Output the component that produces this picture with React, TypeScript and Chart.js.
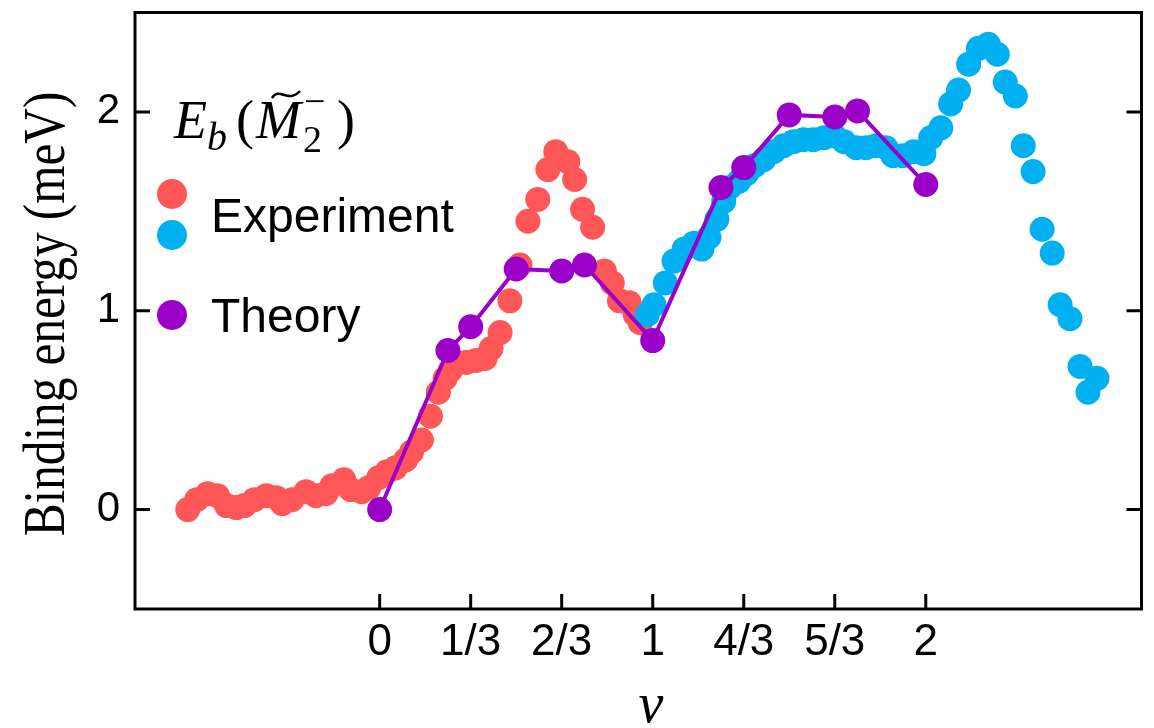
import React, { useEffect, useRef } from "react";
import { Chart, registerables } from "chart.js";

Chart.register(...registerables);

// ---------- data ----------
const expRedNu = [-0.703, -0.67, -0.63, -0.594, -0.561, -0.525, -0.495, -0.459, -0.415, -0.379, -0.357, -0.321, -0.27, -0.233, -0.197, -0.175, -0.131, -0.106, -0.066, -0.04, -0.004, 0.026, 0.058, 0.095, 0.117, 0.153, 0.186, 0.215, 0.24, 0.259, 0.281, 0.317, 0.353, 0.386, 0.408, 0.441, 0.477, 0.514, 0.543, 0.579, 0.616, 0.645, 0.689, 0.714, 0.743, 0.78, 0.823, 0.852, 0.878, 0.914, 0.936, 0.954];
const expRedE = [0.0, 0.05, 0.08, 0.07, 0.02, 0.01, 0.02, 0.05, 0.07, 0.06, 0.03, 0.05, 0.09, 0.07, 0.08, 0.12, 0.15, 0.1, 0.09, 0.11, 0.16, 0.19, 0.21, 0.25, 0.29, 0.35, 0.47, 0.59, 0.66, 0.7, 0.74, 0.74, 0.75, 0.76, 0.81, 0.89, 1.05, 1.23, 1.45, 1.56, 1.71, 1.8, 1.75, 1.66, 1.51, 1.42, 1.2, 1.14, 1.05, 1.04, 0.98, 0.94];

const expBlueNu = [0.98, 1.005, 1.046, 1.078, 1.115, 1.151, 1.18, 1.206, 1.235, 1.26, 1.282, 1.315, 1.344, 1.373, 1.406, 1.443, 1.479, 1.515, 1.552, 1.588, 1.628, 1.665, 1.701, 1.745, 1.781, 1.818, 1.854, 1.88, 1.916, 1.956, 1.993, 2.018, 2.055, 2.091, 2.12, 2.157, 2.193, 2.229, 2.262, 2.291, 2.328, 2.357, 2.393, 2.426, 2.463, 2.492, 2.528, 2.565, 2.594, 2.627];
const expBlueE = [0.98, 1.03, 1.14, 1.25, 1.31, 1.34, 1.31, 1.37, 1.46, 1.55, 1.62, 1.65, 1.69, 1.73, 1.76, 1.8, 1.83, 1.85, 1.86, 1.86, 1.87, 1.88, 1.85, 1.82, 1.82, 1.83, 1.82, 1.78, 1.78, 1.8, 1.79, 1.87, 1.92, 2.04, 2.11, 2.24, 2.32, 2.34, 2.29, 2.15, 2.08, 1.83, 1.7, 1.41, 1.29, 1.03, 0.96, 0.72, 0.59, 0.66];

const theoryNu = [0, 0.25, 1 / 3, 0.5, 2 / 3, 0.75, 1, 1.25, 4 / 3, 1.5, 5 / 3, 1.75, 2];
const theoryE = [0, 0.8, 0.92, 1.21, 1.2, 1.23, 0.85, 1.62, 1.72, 1.985, 1.975, 2.005, 1.635];

const xTickValues = [0, 1 / 3, 2 / 3, 1, 4 / 3, 5 / 3, 2];
const xTickLabels = ["0", "1/3", "2/3", "1", "4/3", "5/3", "2"];
const yTickValues = [0, 1, 2];

const X_MIN = -0.896;
const X_MAX = 2.79;
const Y_MIN = -0.5;
const Y_MAX = 2.5;

const RED = "#FF5757";
const BLUE = "#00B0F0";
const PURPLE = "#9A00C8";

const SANS = "'Liberation Sans', Arial, sans-serif";
const SERIF = "'Liberation Serif', 'Times New Roman', serif";

const toPts = (xs: number[], ys: number[]) => xs.map((x, i) => ({ x, y: ys[i] }));

const decorPlugin = {
  id: "decor",
  afterDraw(chart: any) {
    const { ctx, chartArea: a, scales } = chart;
    ctx.save();
    // frame
    ctx.strokeStyle = "#000";
    ctx.lineWidth = 3;
    ctx.strokeRect(a.left, a.top, a.right - a.left, a.bottom - a.top);
    // inward ticks
    ctx.beginPath();
    for (const t of scales.x.ticks) {
      const x = scales.x.getPixelForValue(t.value);
      ctx.moveTo(x, a.bottom);
      ctx.lineTo(x, a.bottom - 15);
    }
    for (const t of scales.y.ticks) {
      const y = scales.y.getPixelForValue(t.value);
      ctx.moveTo(a.left, y);
      ctx.lineTo(a.left + 15, y);
      ctx.moveTo(a.right, y);
      ctx.lineTo(a.right - 15, y);
    }
    ctx.stroke();

    // y-axis title
    ctx.save();
    ctx.fillStyle = "#000";
    ctx.translate(64, 314);
    ctx.rotate(-Math.PI / 2);
    ctx.scale(0.82, 1);
    ctx.font = `60px ${SERIF}`;
    ctx.textAlign = "center";
    ctx.textBaseline = "alphabetic";
    ctx.fillText("Binding energy (meV)", 0, 0);
    ctx.restore();

    // x-axis title
    ctx.fillStyle = "#000";
    ctx.font = `italic 56px ${SERIF}`;
    ctx.textAlign = "center";
    ctx.textBaseline = "alphabetic";
    ctx.fillText("ν", 651, 722);

    // math label E_b(M~_2^-)
    ctx.textAlign = "left";
    ctx.font = `italic 54px ${SERIF}`;
    ctx.fillText("E", 174, 138);
    ctx.font = `italic 40px ${SERIF}`;
    ctx.fillText("b", 207, 150);
    ctx.font = `54px ${SERIF}`;
    ctx.fillText("(", 236, 138);
    ctx.font = `italic 54px ${SERIF}`;
    ctx.fillText("M", 256, 138);
    ctx.font = `38px ${SERIF}`;
    ctx.fillText("2", 303, 152);
    ctx.fillText("\u2212", 304, 114);
    ctx.font = `54px ${SERIF}`;
    ctx.fillText(")", 337, 138);
    // tilde over M
    ctx.beginPath();
    ctx.lineWidth = 2.5;
    ctx.moveTo(272, 98);
    ctx.bezierCurveTo(279, 86, 288, 104, 300, 91);
    ctx.stroke();

    // legend
    const dot = (x: number, y: number, c: string) => {
      ctx.beginPath();
      ctx.fillStyle = c;
      ctx.arc(x, y, 15, 0, Math.PI * 2);
      ctx.fill();
    };
    dot(172, 194, RED);
    dot(172, 235, BLUE);
    dot(172, 315, PURPLE);
    ctx.fillStyle = "#000";
    ctx.font = `48px ${SANS}`;
    ctx.fillText("Experiment", 211, 232);
    ctx.fillText("Theory", 211, 332);
    ctx.restore();
  },
};

export default function App() {
  const ref = useRef<HTMLCanvasElement | null>(null);
  useEffect(() => {
    document.body.style.margin = "0";
    const canvas = ref.current!;
    const chart = new Chart(canvas, {
      type: "scatter",
      data: {
        datasets: [
          {
            label: "Theory",
            data: toPts(theoryNu, theoryE),
            showLine: true,
            borderColor: PURPLE,
            borderWidth: 4,
            backgroundColor: PURPLE,
            pointBackgroundColor: PURPLE,
            pointBorderWidth: 0,
            pointRadius: 12.5,
            order: 0,
          },
          {
            label: "Experiment (blue)",
            data: toPts(expBlueNu, expBlueE),
            backgroundColor: BLUE,
            pointBackgroundColor: BLUE,
            pointBorderWidth: 0,
            borderWidth: 0,
            pointRadius: 12.5,
            order: 1,
          },
          {
            label: "Experiment (red)",
            data: toPts(expRedNu, expRedE),
            backgroundColor: RED,
            pointBackgroundColor: RED,
            pointBorderWidth: 0,
            borderWidth: 0,
            pointRadius: 12.5,
            order: 2,
          },
        ],
      },
      options: {
        responsive: false,
        animation: false,
        devicePixelRatio: 1,
        layout: { padding: { top: 8, right: 7, left: 0, bottom: 0 } },
        plugins: { legend: { display: false }, tooltip: { enabled: false } },
        scales: {
          x: {
            type: "linear",
            min: X_MIN,
            max: X_MAX,
            grid: { display: false, drawTicks: false },
            border: { display: false },
            afterBuildTicks: (s: any) => {
              s.ticks = xTickValues.map((v) => ({ value: v }));
            },
            afterFit: (s: any) => {
              s.height = 119;
              s.paddingLeft = 0;
              s.paddingRight = 0;
            },
            ticks: {
              autoSkip: false,
              maxRotation: 0,
              minRotation: 0,
              padding: 7,
              color: "#000",
              font: { family: SANS, size: 44 },
              callback: (v: any) => {
                const i = xTickValues.findIndex((t) => Math.abs(t - Number(v)) < 1e-6);
                return i >= 0 ? xTickLabels[i] : "";
              },
            },
          },
          y: {
            type: "linear",
            min: Y_MIN,
            max: Y_MAX,
            grid: { display: false, drawTicks: false },
            border: { display: false },
            afterBuildTicks: (s: any) => {
              s.ticks = yTickValues.map((v) => ({ value: v }));
            },
            afterFit: (s: any) => {
              s.width = 135;
              s.paddingTop = 0;
              s.paddingBottom = 0;
            },
            ticks: {
              padding: 15,
              color: "#000",
              font: { family: SANS, size: 42 },
              callback: (v: any) => String(v),
            },
          },
        },
      },
      plugins: [decorPlugin],
    });
    if ((document as any).fonts) {
      Promise.all([
        (document as any).fonts.load(`44px 'Liberation Sans'`),
        (document as any).fonts.load(`60px 'Liberation Serif'`),
        (document as any).fonts.load(`italic 54px 'Liberation Serif'`),
      ])
        .then(() => chart.update())
        .catch(() => {});
    }
    return () => chart.destroy();
  }, []);
  return (
    <div style={{ position: "absolute", left: 0, top: 0 }}>
      <canvas ref={ref} width={1154} height={728} style={{ display: "block" }} />
    </div>
  );
}
